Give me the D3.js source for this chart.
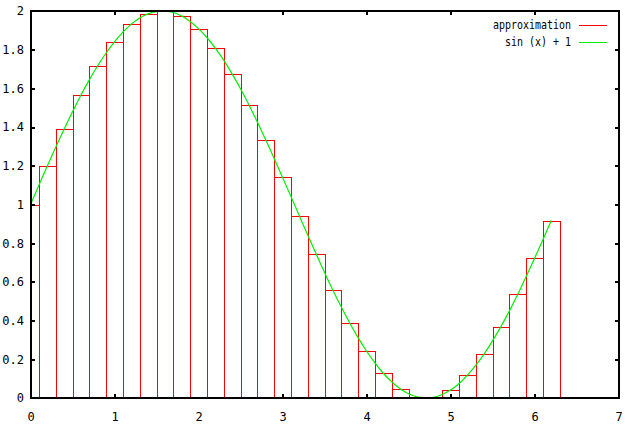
<!DOCTYPE html>
<html>
<head>
<meta charset="UTF-8" />
<title>approximation</title>
<script src="https://d3js.org/d3.v7.min.js"></script>
<style type="text/css">
    body { margin: 0; background: #fff; }
    svg text { font-family: 'DejaVu Sans Mono', monospace; font-size: 12px; fill: #000; }
</style>
</head>
<body>
<div id="chart"></div>
<script>
    // box centres and heights (step 0.2)
    var boxX = [0, 0.2, 0.4, 0.6, 0.8, 1.0, 1.2, 1.4, 1.6, 1.8, 2.0, 2.2, 2.4, 2.6, 2.8, 3.0,
                3.2, 3.4, 3.6, 3.8, 4.0, 4.2, 4.4, 4.6, 4.8, 5.0, 5.2, 5.4, 5.6, 5.8, 6.0, 6.2];
    var boxY = [1.000, 1.199, 1.389, 1.565, 1.717, 1.841, 1.932, 1.985, 2.000, 1.974, 1.909, 1.808,
                1.675, 1.516, 1.335, 1.141, 0.942, 0.745, 0.557, 0.388, 0.243, 0.128, 0.048, 0.006,
                0.004, 0.041, 0.117, 0.227, 0.369, 0.535, 0.721, 0.917];
    var boxWidth = 0.2;

    // curve samples, x = 0 .. 6.2 step 0.1
    var curveY = [1.000, 1.100, 1.199, 1.296, 1.389, 1.479, 1.565, 1.644, 1.717, 1.783,
                  1.841, 1.891, 1.932, 1.964, 1.985, 1.997, 2.000, 1.992, 1.974, 1.946,
                  1.909, 1.863, 1.808, 1.746, 1.675, 1.598, 1.516, 1.427, 1.335, 1.239,
                  1.141, 1.042, 0.942, 0.842, 0.745, 0.649, 0.557, 0.470, 0.388, 0.312,
                  0.243, 0.182, 0.128, 0.084, 0.048, 0.022, 0.006, 0.000, 0.004, 0.018,
                  0.041, 0.074, 0.117, 0.168, 0.227, 0.295, 0.369, 0.449, 0.535, 0.626,
                  0.721, 0.818, 0.917];
    var curveStep = 0.1;

    var xTicks = [0, 1, 2, 3, 4, 5, 6, 7];
    var yTicks = [0, 0.2, 0.4, 0.6, 0.8, 1, 1.2, 1.4, 1.6, 1.8, 2];
    var legendNames = ["approximation", "sin (x) + 1"];
    var legendColors = ["#ff0000", "#00f000"];

    var W = 625, H = 431;
    var mLeft = 30.5, mRight = 618.5, mTop = 11, mBottom = 398;

    var x = d3.scaleLinear().domain([0, 7]).range([mLeft, mRight]);
    var y = d3.scaleLinear().domain([0, 2]).range([mBottom, mTop]);

    var svg = d3.select("#chart").append("svg")
        .attr("width", W).attr("height", H);

    svg.append("defs").append("clipPath").attr("id", "plot")
        .append("rect")
        .attr("x", mLeft).attr("y", mTop - 1)
        .attr("width", mRight - mLeft).attr("height", mBottom - mTop + 2);

    var plot = svg.append("g").attr("clip-path", "url(#plot)");

    // boxes
    plot.selectAll("rect.box")
        .data(boxX.map(function(d, i){ return {x: d, y: boxY[i]}; }))
        .enter().append("rect")
        .attr("class", "box")
        .attr("x", function(d){ return Math.round(x(d.x - boxWidth / 2)) + 0.5; })
        .attr("y", function(d){ return Math.round(y(d.y)) + 0.5; })
        .attr("width", function(d){ return Math.round(x(d.x + boxWidth / 2)) - Math.round(x(d.x - boxWidth / 2)); })
        .attr("height", function(d){ return Math.round(y(0)) - Math.round(y(d.y)); })
        .attr("fill", "none")
        .attr("stroke", legendColors[0])
        .attr("stroke-width", 1)
        .attr("shape-rendering", "crispEdges");

    // curve
    var line = d3.line()
        .x(function(d, i){ return x(i * curveStep); })
        .y(function(d){ return y(d); })
        .curve(d3.curveMonotoneX);

    plot.append("path")
        .datum(curveY)
        .attr("d", line)
        .attr("fill", "none")
        .attr("stroke", legendColors[1])
        .attr("stroke-width", 1.2);

    // border
    svg.append("rect")
        .attr("x", mLeft).attr("y", mTop)
        .attr("width", mRight - mLeft).attr("height", mBottom - mTop)
        .attr("fill", "none").attr("stroke", "#000").attr("stroke-width", 2)
        .attr("shape-rendering", "crispEdges");

    // ticks, inward on all sides
    var tickLen = 4;
    var axisBottom = d3.axisBottom(x).tickValues(xTicks).tickSize(-tickLen).tickPadding(14).tickFormat(d3.format("d"));
    var axisTop = d3.axisTop(x).tickValues(xTicks).tickSize(-tickLen).tickFormat("");
    var axisLeft = d3.axisLeft(y).tickValues(yTicks).tickSize(-tickLen).tickPadding(6.5).tickFormat(function(d){ return String(+d.toFixed(1)); });
    var axisRight = d3.axisRight(y).tickValues(yTicks).tickSize(-tickLen).tickFormat("");

    function styleAxis(g) {
        g.select(".domain").remove();
        g.selectAll(".tick line").attr("stroke", "#000").attr("stroke-width", 2).attr("shape-rendering", "crispEdges");
        g.selectAll(".tick text").attr("font-family", null).attr("font-size", null);
    }

    svg.append("g").attr("transform", "translate(0," + mBottom + ")").call(axisBottom).call(styleAxis);
    svg.append("g").attr("transform", "translate(0," + mTop + ")").call(axisTop).call(styleAxis);
    svg.append("g").attr("transform", "translate(" + mLeft + ",0)").call(axisLeft).call(styleAxis);
    svg.append("g").attr("transform", "translate(" + mRight + ",0)").call(axisRight).call(styleAxis);

    // the end ticks sit on the border, hide those
    svg.selectAll(".tick line").filter(function(d){ return d === 0 || d === 7 || d === 2; }).remove();

    // legend
    var legend = svg.append("g");
    legendNames.forEach(function(name, i){
        var ly = 25 + i * 17;
        legend.append("text")
            .attr("x", 571).attr("y", ly)
            .attr("dy", "0.35em")
            .attr("text-anchor", "end")
            .attr("textLength", name.length * 6)
            .attr("lengthAdjust", "spacingAndGlyphs")
            .text(name);
        legend.append("line")
            .attr("x1", 579).attr("x2", 607)
            .attr("y1", ly + 0.5).attr("y2", ly + 0.5)
            .attr("stroke", legendColors[i])
            .attr("stroke-width", 1);
    });
</script>
</body>
</html>
